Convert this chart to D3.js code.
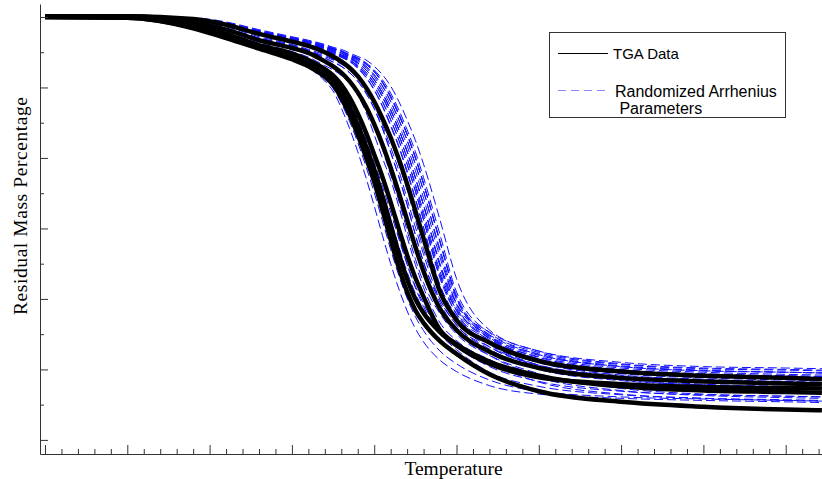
<!DOCTYPE html>
<html>
<head>
<meta charset="utf-8">
<script src="https://cdn.jsdelivr.net/npm/d3@7"></script>
<style>
  body { margin: 0; background: #fff; }
</style>
</head>
<body>
<div id="viz"></div>
<script>
// temperature grid (deg C) shared by every run
const temps = [50, 100, 140, 160, 180, 200, 210, 220, 225, 230, 235, 240, 245, 250, 255, 260, 265, 270, 275, 280, 290, 300, 320, 350, 400, 450, 500, 522];

// measured TGA runs (residual mass %)
const tgaA = [100, 99.9, 98.4, 97.0, 95.5, 94.0, 93.0, 91.5, 90.4, 88.5, 86.1, 83.3, 80.1, 76.6, 72.6, 68.4, 64.4, 61.0, 58.4, 56.6, 54.0, 52.2, 49.3, 46.9, 45.4, 44.7, 44.3, 44.2];
const tgaE = [100, 99.9, 98.5, 97.1, 95.7, 94.2, 93.3, 91.9, 91.0, 89.5, 87.3, 84.7, 81.7, 78.4, 74.6, 70.5, 66.4, 62.8, 60.0, 58.0, 55.3, 53.4, 50.8, 48.9, 47.9, 47.5, 47.35, 47.3];
const tgaB = [100, 100, 98.9, 97.6, 96.0, 94.8, 93.9, 92.6, 91.7, 90.4, 88.6, 86.3, 83.6, 80.5, 77.3, 73.7, 69.9, 66.2, 63.0, 60.3, 55.6, 53.6, 51.1, 49.1, 47.6, 47.0, 46.8, 46.7];
const tgaC = [100.1, 100.1, 99.3, 98.2, 96.7, 95.6, 94.9, 93.7, 93.0, 92.1, 90.9, 89.3, 87.3, 84.8, 81.9, 78.6, 75.0, 71.2, 67.4, 63.9, 58.6, 55.6, 52.5, 50.2, 48.8, 48.3, 48.0, 47.9];
const tgaD = [100.1, 100.1, 99.7, 98.9, 97.6, 96.5, 95.9, 95.0, 94.4, 93.7, 92.8, 91.6, 90.0, 88.0, 85.6, 82.9, 79.8, 76.3, 72.5, 68.6, 61.0, 57.0, 53.8, 51.2, 49.7, 49.1, 48.8, 48.6];

// simulated runs with randomized Arrhenius parameters
const arrheniusRuns = [
  [100.1, 100.1, 99.8, 99.1, 98.0, 97.0, 96.5, 95.9, 95.5, 95.2, 94.6, 94.2, 93.5, 92.5, 91.1, 89.2, 86.8, 84.0, 80.9, 77.2, 69.1, 61.0, 55.2, 52.4, 50.7, 50.1, 49.9, 49.8],
  [100.1, 100.1, 99.8, 99.1, 97.9, 96.9, 96.4, 95.7, 95.4, 94.9, 94.4, 93.9, 93.0, 91.8, 90.2, 88.0, 85.4, 82.5, 79.1, 75.3, 67.0, 59.9, 54.9, 52.0, 50.4, 49.8, 49.6, 49.5],
  [100.1, 100.1, 99.8, 99.0, 97.8, 96.8, 96.2, 95.6, 95.2, 94.6, 94.2, 93.5, 92.5, 91.1, 89.2, 86.8, 84.0, 80.9, 77.2, 73.3, 64.8, 58.8, 54.5, 51.8, 50.2, 49.6, 49.3, 49.2],
  [100.1, 100.1, 99.7, 98.9, 97.7, 96.7, 96.1, 95.5, 95.0, 94.4, 93.9, 93.1, 92.0, 90.6, 88.8, 86.2, 83.2, 79.9, 76.0, 71.8, 63.5, 57.8, 53.8, 51.3, 49.6, 49.0, 48.7, 48.6],
  [100.1, 100.1, 99.7, 98.9, 97.7, 96.6, 96.1, 95.4, 94.9, 94.4, 93.9, 93.0, 91.8, 90.2, 88.0, 85.4, 82.5, 79.1, 75.3, 71.2, 62.9, 57.9, 54.2, 51.5, 49.9, 49.3, 49.1, 49.0],
  [100.1, 100.1, 99.8, 99.0, 97.7, 96.6, 96.0, 95.3, 94.7, 94.3, 93.7, 92.7, 91.4, 89.6, 87.3, 84.5, 81.5, 77.9, 74.1, 70.0, 61.6, 57.3, 53.6, 51.0, 49.4, 48.8, 48.5, 48.4],
  [100.1, 100.1, 99.5, 98.6, 97.2, 96.1, 95.4, 94.6, 94.0, 93.4, 92.6, 91.4, 89.7, 87.5, 84.7, 81.5, 78.2, 74.2, 70.2, 66.3, 59.9, 56.3, 53.2, 50.6, 49.0, 48.3, 48.0, 47.9],
  [100.1, 100.1, 99.4, 98.4, 97.0, 95.9, 95.2, 94.2, 93.6, 93.0, 92.1, 90.9, 89.2, 87.0, 84.2, 80.8, 77.3, 73.4, 69.1, 65.2, 59.9, 56.3, 52.9, 50.0, 48.4, 47.8, 47.5, 47.4],
  [100.1, 100.1, 99.2, 98.0, 96.5, 95.4, 94.7, 93.7, 93.0, 92.2, 91.1, 89.5, 87.3, 84.5, 81.2, 77.6, 73.9, 69.7, 65.7, 62.3, 57.9, 55.0, 52.0, 49.4, 47.3, 46.5, 46.2, 46.1],
  [100, 100, 99.1, 97.8, 96.3, 95.1, 94.3, 93.1, 92.5, 91.7, 90.6, 88.9, 86.5, 83.3, 80.0, 76.9, 73.1, 68.8, 64.9, 61.6, 56.6, 54.1, 51.4, 48.8, 47.0, 46.3, 46.0, 45.9],
  [100, 100, 98.8, 97.4, 95.8, 94.5, 93.6, 92.5, 91.7, 90.6, 88.9, 86.5, 83.3, 80.0, 76.9, 73.1, 68.8, 64.9, 61.6, 58.9, 55.1, 53.3, 50.9, 48.2, 46.5, 45.9, 45.6, 45.5],
  [100, 99.9, 98.6, 97.2, 95.7, 94.3, 93.3, 92.0, 91.0, 89.6, 87.4, 84.8, 81.8, 78.5, 75.0, 71.2, 67.4, 63.8, 60.8, 58.4, 55.0, 52.8, 49.6, 47.6, 46.4, 45.9, 45.7, 45.6],
  [100, 99.9, 98.4, 97.0, 95.5, 94.0, 93.0, 91.2, 89.9, 87.8, 85.2, 82.2, 78.8, 75.1, 71.1, 67.0, 63.3, 60.1, 57.5, 55.5, 52.6, 50.8, 48.5, 46.9, 46.1, 45.8, 45.6, 45.5],
  [100, 99.9, 98.4, 97.0, 95.5, 94.0, 92.8, 90.9, 89.5, 87.1, 84.2, 80.9, 77.2, 73.2, 69.0, 65.0, 61.4, 58.3, 55.8, 53.9, 51.3, 49.7, 47.7, 46.5, 45.9, 45.6, 45.4, 45.3],
  [100.1, 100.1, 99.8, 99.1, 98.0, 97.0, 96.5, 95.8, 95.5, 95.1, 94.5, 94.1, 93.3, 92.2, 90.7, 88.6, 86.1, 83.3, 80.0, 76.3, 68.1, 60.5, 54.8, 51.7, 50.0, 49.4, 49.1, 49.0],
  [100.1, 100.1, 99.8, 99.0, 97.7, 96.7, 96.2, 95.5, 95.1, 94.5, 94.1, 93.3, 92.2, 90.7, 88.6, 86.1, 83.3, 80.0, 76.3, 72.3, 63.9, 58.4, 54.4, 51.4, 49.8, 49.2, 48.9, 48.8],
  [100.1, 100.1, 99.4, 98.4, 97.0, 96.0, 95.3, 94.4, 93.9, 93.3, 92.6, 91.6, 90.2, 88.2, 85.7, 82.6, 79.0, 75.5, 71.2, 67.0, 61.0, 57.0, 53.2, 50.6, 49.1, 48.5, 48.2, 48.1],
  [100.1, 100.1, 99.7, 98.9, 97.7, 96.6, 96.0, 95.3, 94.8, 94.3, 93.7, 92.8, 91.5, 89.7, 87.4, 84.7, 81.7, 78.2, 74.3, 70.2, 62.0, 57.5, 53.6, 50.6, 48.7, 47.9, 47.6, 47.5],
  [100.1, 100.1, 99.8, 99.1, 97.9, 96.9, 96.3, 95.7, 95.3, 94.8, 94.3, 93.7, 92.8, 91.5, 89.7, 87.4, 84.7, 81.7, 78.2, 74.3, 65.9, 59.4, 54.7, 52.2, 50.5, 49.9, 49.6, 49.5],
  [100.1, 100.1, 99.8, 99.2, 98.1, 97.1, 96.6, 96.0, 95.6, 95.2, 94.7, 94.2, 93.4, 92.3, 90.8, 88.8, 86.3, 83.4, 80.2, 76.4, 68.2, 60.2, 54.6, 51.5, 49.8, 49.2, 48.9, 48.8],
  [100.1, 100.1, 99.8, 99.1, 98.0, 97.0, 96.5, 95.8, 95.5, 95.1, 94.5, 94.1, 93.3, 92.2, 90.7, 88.6, 86.1, 83.3, 80.0, 76.3, 68.0, 60.2, 54.3, 51.0, 49.2, 48.6, 48.3, 48.2],
  [100.1, 100.1, 99.8, 99.0, 97.8, 96.8, 96.2, 95.6, 95.2, 94.6, 94.2, 93.5, 92.5, 91.1, 89.2, 86.8, 84.0, 80.9, 77.2, 73.3, 64.6, 58.3, 53.6, 50.4, 48.5, 47.8, 47.5, 47.4],
  [100.1, 100.1, 99.8, 99.0, 97.8, 96.8, 96.2, 95.6, 95.2, 94.6, 94.2, 93.5, 92.5, 91.1, 89.2, 86.8, 84.0, 80.9, 77.2, 73.3, 65.0, 59.3, 55.3, 52.6, 51.0, 50.4, 50.2, 50.1],
  [100.1, 100.1, 99.9, 99.3, 98.2, 97.2, 96.7, 96.1, 95.7, 95.4, 94.9, 94.4, 93.9, 93.0, 91.8, 90.2, 88.0, 85.4, 82.5, 79.1, 71.2, 62.9, 55.6, 52.6, 50.8, 50.2, 50.0, 49.9],
  [100.1, 100.1, 99.7, 98.9, 97.7, 96.6, 96.1, 95.4, 94.9, 94.4, 93.9, 93.0, 91.8, 90.2, 88.0, 85.4, 82.5, 79.1, 75.3, 71.2, 63.2, 58.5, 54.9, 52.1, 50.4, 49.8, 49.6, 49.5],
  [100.1, 100.1, 99.8, 99.1, 97.9, 96.9, 96.4, 95.7, 95.4, 94.9, 94.4, 93.9, 93.0, 91.8, 90.2, 88.0, 85.4, 82.5, 79.1, 75.3, 66.6, 59.2, 54.0, 51.0, 49.5, 49.0, 48.8, 48.7],
  [100.1, 100.1, 99.4, 98.4, 97.0, 95.9, 95.2, 94.2, 93.6, 93.0, 92.1, 90.9, 89.2, 87.0, 84.2, 80.8, 77.3, 73.4, 69.1, 65.2, 59.5, 55.6, 52.0, 49.2, 47.6, 47.0, 46.8, 46.7],
  [100, 100, 98.9, 97.5, 95.9, 94.6, 93.7, 92.3, 91.3, 89.9, 88.0, 85.5, 82.6, 79.4, 76.0, 72.3, 68.5, 64.9, 61.8, 59.3, 55.2, 53.2, 50.4, 48.3, 46.9, 46.4, 46.2, 46.1]
];

const tgaRuns = [tgaA, tgaE, tgaB, tgaC, tgaD];
const legendLabels = ['TGA Data', 'Randomized Arrhenius', ' Parameters'];

function buildChart(containerId) {
    const width = 822;
    const height = 479;

    const svg = d3.select(containerId)
        .append('svg')
        .attr('width', width)
        .attr('height', height);

    svg.append('rect')
        .attr('width', width)
        .attr('height', height)
        .attr('fill', '#fff');

    const x = d3.scaleLinear().domain([46.96, 522.05]).range([40, 822]);
    const y = d3.scaleLinear().domain([38.0, 101.84]).range([454, 4]);

    const line = d3.line()
        .x(d => x(d[0]))
        .y(d => y(d[1]))
        .curve(d3.curveMonotoneX);

    const toPoints = run => run.map((m, i) => [temps[i], m]);

    // simulated curves first, measured curves on top
    svg.append('g')
        .selectAll('path')
        .data(arrheniusRuns)
        .enter()
        .append('path')
        .attr('d', d => line(toPoints(d)))
        .attr('fill', 'none')
        .attr('stroke', '#1010ff')
        .attr('stroke-width', 1)
        .attr('stroke-dasharray', '9,4');

    svg.append('g')
        .selectAll('path')
        .data(tgaRuns)
        .enter()
        .append('path')
        .attr('d', d => line(toPoints(d)))
        .attr('fill', 'none')
        .attr('stroke', '#000')
        .attr('stroke-width', 4.5);

    // axes: ticks point inward, no labels
    const yMajor = d3.range(40, 101, 10);
    const yMinor = d3.range(45, 100, 10);
    const xMajor = d3.range(50, 521, 50);
    const xMinor = d3.range(60, 521, 10).filter(v => v % 50 !== 0);

    const axisColor = '#333';

    svg.append('g')
        .attr('transform', 'translate(40,0)')
        .style('color', axisColor)
        .call(d3.axisLeft(y).tickValues(yMajor).tickSize(-8).tickSizeOuter(0).tickFormat(''));
    svg.append('g')
        .attr('transform', 'translate(40,0)')
        .style('color', axisColor)
        .call(d3.axisLeft(y).tickValues(yMinor).tickSize(-4).tickSizeOuter(0).tickFormat(''))
        .select('.domain').remove();

    svg.append('g')
        .attr('transform', 'translate(0,454)')
        .style('color', axisColor)
        .call(d3.axisBottom(x).tickValues(xMajor).tickSize(-9).tickSizeOuter(0).tickFormat(''));
    svg.append('g')
        .attr('transform', 'translate(0,454)')
        .style('color', axisColor)
        .call(d3.axisBottom(x).tickValues(xMinor).tickSize(-5).tickSizeOuter(0).tickFormat(''))
        .select('.domain').remove();

    svg.append('text')
        .attr('transform', 'translate(27,206) rotate(-90)')
        .attr('text-anchor', 'middle')
        .attr('textLength', 218)
        .attr('lengthAdjust', 'spacing')
        .style('font-family', '"Liberation Serif", "Times New Roman", serif')
        .style('font-size', '19.5px')
        .attr('fill', '#000')
        .text('Residual Mass Percentage');

    svg.append('text')
        .attr('x', 453.5)
        .attr('y', 475)
        .attr('text-anchor', 'middle')
        .style('font-family', '"Liberation Serif", "Times New Roman", serif')
        .style('font-size', '19.5px')
        .attr('fill', '#000')
        .text('Temperature');

    // legend
    const lg = svg.append('g');
    lg.append('rect')
        .attr('x', 549.5).attr('y', 32.5)
        .attr('width', 236).attr('height', 85)
        .attr('fill', '#fff')
        .attr('stroke', '#333')
        .attr('stroke-width', 1);
    lg.append('line')
        .attr('x1', 558).attr('x2', 608)
        .attr('y1', 53.5).attr('y2', 53.5)
        .attr('stroke', '#000').attr('stroke-width', 1.2);
    lg.append('line')
        .attr('x1', 558).attr('x2', 608)
        .attr('y1', 90.5).attr('y2', 90.5)
        .attr('stroke', '#8a8aff').attr('stroke-width', 1.2)
        .attr('stroke-dasharray', '8,5');

    const legendPos = [[613, 58.5], [615, 96.5], [615, 113.5]];
    const legendSize = ['15px', '16px', '16px'];
    lg.selectAll('text.lbl')
        .data(legendLabels)
        .enter()
        .append('text')
        .attr('class', 'lbl')
        .attr('x', (d, i) => legendPos[i][0])
        .attr('y', (d, i) => legendPos[i][1])
        .style('white-space', 'pre')
        .style('font-family', '"Liberation Sans", Arial, sans-serif')
        .style('font-size', (d, i) => legendSize[i])
        .attr('fill', '#000')
        .text(d => d);
}

buildChart('#viz');
</script>
</body>
</html>
